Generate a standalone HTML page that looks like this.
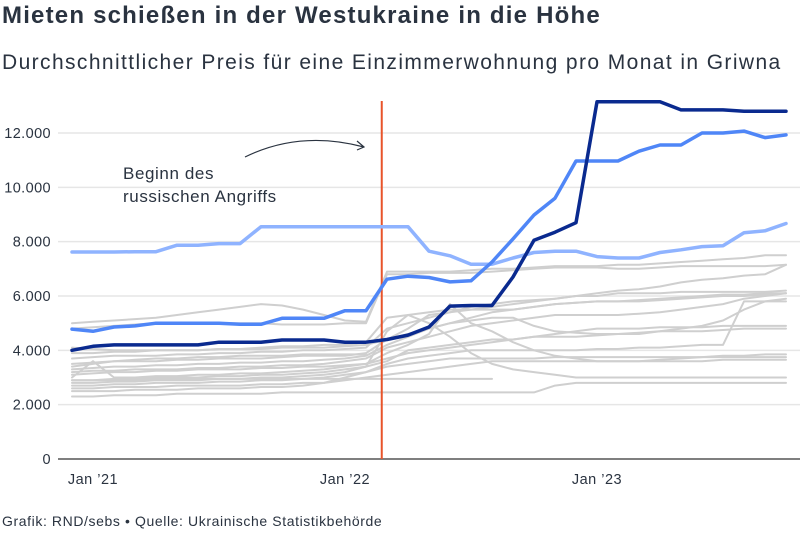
<!DOCTYPE html>
<html><head><meta charset="utf-8"><style>
body{margin:0;background:#fff;width:800px;height:533px;overflow:hidden;font-family:"Liberation Sans",sans-serif;color:#2a3340}
#title{position:absolute;left:2px;top:2px;font-size:24px;font-weight:bold;letter-spacing:1.2px}
#sub{position:absolute;left:2px;top:51px;font-size:21px;letter-spacing:1.4px;color:#2a3340}
#src{position:absolute;left:2px;top:513px;font-size:14px;letter-spacing:0.6px;color:#2a3340}
svg{position:absolute;left:0;top:0}
</style></head><body>
<div id="title">Mieten schießen in der Westukraine in die Höhe</div>
<div id="sub">Durchschnittlicher Preis für eine Einzimmerwohnung pro Monat in Griwna</div>
<div id="src">Grafik: RND/sebs • Quelle: Ukrainische Statistikbehörde</div>
<svg id="chart" width="800" height="533"></svg>
<script>
const yTicks=[0,2000,4000,6000,8000,10000,12000];
const yTickLabels=["0","2.000","4.000","6.000","8.000","10.000","12.000"];
const xTickIdx=[1,13,25];
const xTickLabels=["Jan ’21","Jan ’22","Jan ’23"];
const warIdx=14.75;
const darkSeries=[4000,4150,4200,4200,4200,4200,4200,4300,4300,4300,4380,4380,4380,4300,4300,4400,4560,4860,5630,5650,5650,6700,8050,8350,8700,13150,13150,13150,13150,12850,12850,12850,12800,12800,12800];
const midSeries=[4780,4700,4860,4900,5000,5000,5000,5000,4960,4960,5180,5180,5180,5460,5460,6620,6730,6680,6520,6560,7250,8100,8980,9600,10970,10970,10970,11330,11560,11560,12000,12000,12070,11830,11930];
const lightSeries=[7620,7620,7620,7630,7630,7870,7870,7930,7930,8550,8550,8550,8550,8550,8550,8550,8550,7650,7480,7170,7170,7400,7600,7650,7650,7450,7400,7400,7600,7700,7820,7850,8330,8400,8670];
const g1=[5000,5050,5100,5150,5200,5300,5400,5500,5600,5700,5650,5500,5300,5100,5050,6900,6900,6900,6900,6950,7000,7000,7050,7100,7100,7100,7150,7150,7200,7250,7300,7350,7400,7500,7500];
const g2=[4800,4850,4900,4950,5000,5000,5000,5000,5000,5000,4950,4950,4950,5000,5000,6800,6800,6850,6850,6850,6900,6950,7000,7050,7050,7050,7000,7000,7050,7100,7100,7100,7100,7100,7150];
const g3=[3700,3750,3800,3800,3800,3850,3850,3900,3900,3950,3950,4000,4000,4050,4100,4800,5000,5200,5400,5600,5700,5800,5850,5900,6000,6100,6200,6250,6350,6500,6600,6650,6750,6800,7150];
const g4=[3900,3900,3950,3950,4000,4000,4000,4050,4050,4100,4150,4150,4200,4200,4300,5200,5300,5400,5500,5500,5600,5700,5800,5900,6000,6000,6100,6100,6100,6150,6150,6150,6150,6150,6200];
const g5=[3500,3550,3600,3600,3600,3650,3650,3700,3700,3700,3750,3800,3800,3800,3900,4400,4800,5300,5400,5500,5500,5500,5600,5700,5750,5800,5800,5850,5900,5950,6000,6050,6050,6100,6100];
const g6=[3300,3350,3400,3400,3450,3450,3500,3500,3550,3550,3600,3600,3650,3700,3800,4200,4500,4800,5000,5100,5200,5200,4900,4700,4650,4600,4600,4650,4700,4800,4900,5100,5500,5800,5900];
const g7=[3200,3250,3250,3300,3300,3300,3350,3350,3400,3400,3450,3450,3500,3600,3700,4100,4300,4500,4700,4900,5000,5100,5200,5300,5300,5300,5300,5350,5400,5500,5600,5700,5900,6000,6100];
const g8=[3000,3600,3000,3000,3050,3050,3100,3100,3150,3150,3200,3250,3300,3400,3500,3700,3900,4000,4100,4200,4300,4400,4500,4600,4700,4800,4800,4800,4850,4850,4850,4900,4900,4900,4900];
const g9=[2900,2900,2950,2950,3000,3000,3000,3050,3050,3100,3100,3150,3200,3300,3400,3600,4000,4100,4200,4300,4400,4400,4500,4500,4500,4550,4600,4600,4700,4700,4700,4750,4800,4800,4800];
const g10=[2800,2800,2850,2850,2900,2900,2900,2950,2950,3000,3000,3050,3100,3200,3400,4700,5300,5000,4500,3900,3500,3300,3200,3100,3000,3000,3000,3000,3000,3000,3000,3000,3000,3000,3000];
const g11=[2700,2700,2750,2750,2800,2800,2800,2850,2850,2900,2900,2950,3000,3100,3200,3500,3700,3800,3900,4000,4000,4000,4000,4000,4000,4050,4050,4100,4100,4150,4200,4200,5800,5800,5800];
const g12=[2600,2600,2650,2650,2650,2700,2700,2700,2700,2750,2750,2800,2800,2900,3000,3100,3200,3300,3400,3500,3600,3600,3600,3600,3600,3600,3600,3600,3650,3700,3750,3800,3800,3850,3850];
const g13=[2500,2500,2500,2550,2550,2550,2600,2600,2600,2650,2650,2700,2800,3000,3200,3400,3500,3600,3700,3700,3700,3700,3700,3750,3750,3750,3750,3750,3750,3750,3750,3750,3750,3750,3750];
const g14=[2300,2300,2350,2350,2350,2400,2400,2400,2400,2400,2450,2450,2450,2450,2450,2450,2450,2450,2450,2450,2450,2450,2450,2700,2800,2800,2800,2800,2800,2800,2800,2800,2800,2800,2800];
const g15=[2900,2900,2900,2900,2950,2950,2950,2950,2950,2950,2950,2950,2950,2950,2950,2950,2950,2950,2950,2950,2950];
const g16=[3400,3500,3600,3650,3700,3700,3750,3750,3800,3800,3800,3850,3850,3850,3850];
const g17=[4100,4050,4000,4000,4000,4000,4000,4050,4050,4050,4100,4100,4100,4150,4200,4400,4600,4800,5000,5200,5400,5500,5600,5700,5750,5800,5800,5800,5850,5900,5950,6000,6000,6050,6100];
const g18=[3100,3150,3200,3200,3250,3250,3300,3300,3300,3350,3350,3400,3400,3450,3500,3900,4200,4600,5700,5000,4700,4300,4000,3800,3700,3600,3600,3600,3600,3600,3600,3650,3650,3650,3650];
const graySeries=[g1,g2,g3,g4,g5,g6,g7,g8,g9,g10,g11,g12,g13,g14,g15,g16,g17,g18];

const NS="http://www.w3.org/2000/svg";
const svg=document.getElementById('chart');
const X0=72,DX=21,Y0=459,YMAX=12000,YTOP=133;
function xs(i){return X0+i*DX;}
function ys(v){return Y0-(v/YMAX)*(Y0-YTOP);}
function mk(tag,attrs){const e=document.createElementNS(NS,tag);for(const k in attrs)e.setAttribute(k,attrs[k]);svg.appendChild(e);return e;}
yTicks.forEach((t,i)=>{
  if(t>0){const g=mk('line',{x1:58,x2:800,y1:ys(t),y2:ys(t),stroke:'#e6e6e6','stroke-width':1.5});
  
  }
  const tx=mk('text',{x:51,y:ys(t)+5,'text-anchor':'end','font-size':14.5,'letter-spacing':0.4,fill:'#2a3340'});
  tx.textContent=yTickLabels[i];
  
  
});
xTickIdx.forEach((ix,i)=>{
  const tx=mk('text',{x:xs(ix),y:484,'text-anchor':'middle','font-size':14.5,'letter-spacing':0.5,fill:'#2a3340'});
  tx.textContent=xTickLabels[i];
  
  
});
function line(arr,color,w,name){
  const d=arr.map((v,i)=>(i?'L':'M')+xs(i).toFixed(1)+' '+ys(v).toFixed(1)).join(' ');
  const p=mk('path',{d:d,fill:'none',stroke:color,'stroke-width':w,'stroke-linejoin':'round','stroke-linecap':'round'});
  
  
}
graySeries.forEach(s=>line(s,'#cfcfcf',2,'city-line-gray'));
const base=mk('line',{x1:58,x2:800,y1:Y0,y2:Y0,stroke:'#333','stroke-width':1.3});


const war=mk('line',{x1:xs(warIdx),x2:xs(warIdx),y1:101,y2:Y0,stroke:'#e8542a','stroke-width':2});


line(lightSeries,'#8fb3ff',3.5,'city-line-light-blue');
line(midSeries,'#4f86f7',3.5,'city-line-blue');
line(darkSeries,'#0a2a8f',3.5,'city-line-dark-blue');
const a1=mk('text',{x:123,y:179,'font-size':17,'letter-spacing':0.6,fill:'#2a3340'});a1.textContent='Beginn des';


const a2=mk('text',{x:123,y:202,'font-size':17,'letter-spacing':0.6,fill:'#2a3340'});a2.textContent='russischen Angriffs';


const arr=mk('path',{d:'M245 157 Q300 130 364 147 M357 141 L364 147 L357 150',fill:'none',stroke:'#2a3340','stroke-width':1.2});


</script>
</body></html>
